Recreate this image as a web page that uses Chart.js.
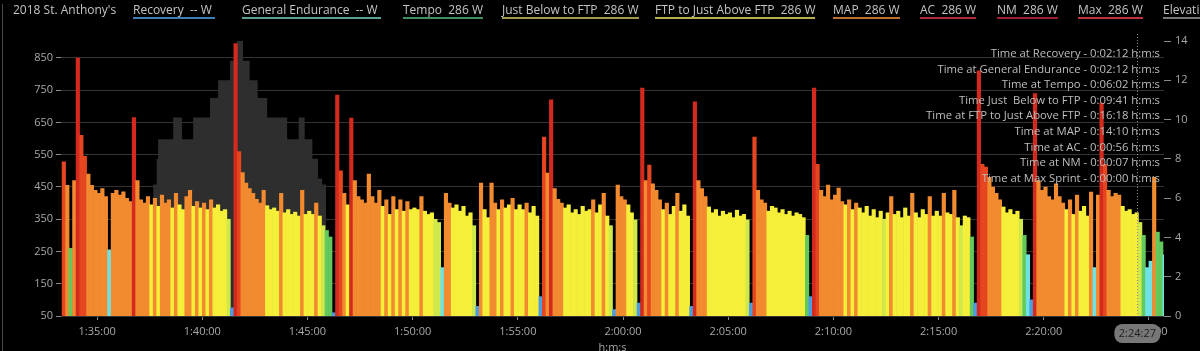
<!DOCTYPE html>
<html>
<head>
<meta charset="utf-8">
<script src="https://cdn.jsdelivr.net/npm/chart.js@4"></script>
<style>
  html, body { margin: 0; padding: 0; background: #000; }
  #wrap { position: relative; width: 1200px; height: 351px; overflow: hidden; background: #000; }
  #wrap canvas { position: absolute; left: 0; top: 0; }
  #edge { position: absolute; left: 2px; top: 4px; width: 1px; height: 347px; background: #4a4a4a; }
  .hdr { position: absolute; top: 3px; font: 12px "Open Sans", sans-serif; color: #c4c4c4; white-space: pre; line-height: 14px; }
  .zone { border-bottom: 2px solid; }
  #times { position: absolute; right: 40px; top: 45px; text-align: right; font: 11.3px "Open Sans", sans-serif;
           color: #bdbdbd; line-height: 15.6px; white-space: pre; }
</style>
</head>
<body>
<div id="wrap">
  <canvas id="powerChart" width="1200" height="351"></canvas>
  <div id="edge"></div>
  <div id="header"></div>
  <div id="times"></div>
</div>
<script>
// ride + legend text
const rideName = "2018 St. Anthony's";
const zoneNames = ['Recovery', 'General Endurance', 'Tempo', 'Just Below to FTP', 'FTP to Just Above FTP', 'MAP', 'AC', 'NM', 'Max', 'Elevation'];
const zoneReadout = ['-- W ', '-- W ', '286 W', '286 W', '286 W', '286 W', '286 W', '286 W', '286 W', ''];
const timeLabels = ['Time at Recovery', 'Time at General Endurance', 'Time at Tempo', 'Time Just  Below to FTP',
  'Time at FTP to Just Above FTP', 'Time at MAP', 'Time at AC', 'Time at NM', 'Time at Max Sprint'];
const timeValues = ['0:02:12', '0:02:12', '0:06:02', '0:09:41', '0:16:18', '0:14:10', '0:00:56', '0:00:07', '0:00:00'];

// power, one value every 10 s
const powerStart = '1:33:25';
const powerStep = 10;
const power = [
  528, 455, 260, 470, 850, 610, 545, 490, 455, 440,
  430, 445, 420, 255, 430, 440, 425, 435, 415, 405,
  665, 470, 410, 400, 420, 395, 415, 390, 425, 400,
  410, 385, 430, 395, 380, 420, 440, 390, 405, 385,
  400, 380, 410, 385, 395, 375, 380, 350, 75, 895,
  560, 495, 462, 445, 430, 412, 400, 440, 392, 380,
  385, 375, 430, 370, 380, 365, 372, 360, 440, 365,
  375, 365, 400, 360, 330, 315, 295, 60, 735, 500,
  430, 395, 664, 470, 420, 410, 400, 490, 420, 400,
  440, 390, 410, 365, 420, 380, 410, 375, 405, 380,
  385, 380, 420, 375, 365, 370, 350, 340, 200, 430,
  400, 385, 395, 375, 390, 360, 370, 330, 80, 462,
  380, 355, 462, 400, 380, 410, 385, 395, 415, 380,
  395, 380, 400, 370, 390, 360, 110, 605, 493, 720,
  445, 412, 400, 385, 395, 370, 380, 365, 390, 375,
  380, 410, 370, 395, 430, 360, 330, 70, 456, 420,
  410, 395, 370, 348, 90, 757, 470, 518, 460, 440,
  410, 380, 400, 365, 390, 430, 375, 395, 360, 80,
  714, 470, 445, 420, 388, 370, 380, 360, 375, 365,
  370, 355, 378, 360, 365, 348, 90, 605, 440, 410,
  400, 375, 390, 385, 370, 380, 365, 375, 360, 370,
  365, 355, 300, 110, 757, 520, 440, 420, 456, 410,
  425, 447, 405, 395, 410, 380, 400, 385, 370, 390,
  360, 380, 355, 375, 350, 370, 420, 365, 375, 355,
  385, 360, 430, 370, 355, 380, 365, 420, 360, 375,
  360, 430, 370, 365, 440, 355, 330, 360, 355, 295,
  90, 810, 520, 512, 480, 450, 430, 410, 388, 370,
  380, 365, 375, 350, 300, 240, 100, 740, 470, 440,
  450, 420, 410, 460, 420, 400, 380, 410, 365, 425,
  375, 390, 360, 434, 200, 425, 710, 520, 440, 420,
  430, 425, 390, 375, 380, 365, 370, 340, 300, 200,
  220, 480, 310, 280, 240
];

// elevation, each value held until the next time
const elevTimes = ['1:33:17', '1:37:40', '1:37:50', '1:37:54', '1:38:37', '1:39:02', '1:39:34', '1:40:22', '1:40:45',
  '1:41:19', '1:41:39', '1:41:56', '1:42:15', '1:42:38', '1:43:05', '1:44:02', '1:44:35', '1:44:52', '1:45:14',
  '1:45:30', '1:45:42', '1:45:53', '2:25:43'];
const elevValues = [0, 6.7, 8, 9, 10.1, 9, 10.1, 11.1, 12, 13, 14, 13, 12, 11.1, 10.1, 9, 10.1, 9, 8, 7, 6.7, 0, 0];

// power zone limits (W) and bar colours
const zoneLimits = [150, 260, 330, 355, 400, 500, 650];
const zoneColors = ['#4d9be0', '#6fe3e3', '#62c95c', '#cfe94c', '#f5ef3a', '#f28b30', '#e6461f', '#d42a1e'];
const zoneLineColors = ['#3f7fb6', '#5aa093', '#3f8f5a', '#a09a48', '#b6b04a', '#c0702e', '#b02a3a', '#a01f30', '#c0303e', '#777'];

const powerTicks = [50, 150, 250, 350, 450, 550, 650, 750, 850];
const elevTicks = [0, 2, 4, 6, 8, 10, 12, 14];
const timeTicks = ['1:35:00', '1:40:00', '1:45:00', '1:50:00', '1:55:00', '2:00:00', '2:05:00', '2:10:00', '2:15:00', '2:20:00', '2:25:00'];
const cursorTime = '2:24:27';
const viewFrom = '1:33:17', viewTo = '2:25:43';

const toSec = s => { const p = s.split(':').map(Number); return p[0] * 3600 + p[1] * 60 + p[2]; };
const fmt = v => {
  const h = Math.floor(v / 3600), m = Math.floor(v % 3600 / 60), s = Math.round(v % 60);
  return h + ':' + String(m).padStart(2, '0') + ':' + String(s).padStart(2, '0');
};
const zoneColor = w => { let k = 0; while (k < zoneLimits.length && w >= zoneLimits[k]) k++; return zoneColors[k]; };

// header + time-in-zone text
const headerLeft = [13, 133, 242, 403, 502, 655, 833, 920, 997, 1078, 1163];
const header = document.getElementById('header');
[rideName].concat(zoneNames).forEach((name, k) => {
  const d = document.createElement('div');
  d.className = 'hdr' + (k > 0 ? ' zone' : '');
  d.style.left = headerLeft[k] + 'px';
  if (k > 0) {
    d.style.borderColor = zoneLineColors[k - 1];
    d.textContent = name + (zoneReadout[k - 1] ? '  ' + zoneReadout[k - 1] : '');
  } else d.textContent = name;
  header.appendChild(d);
});
document.getElementById('times').textContent =
  timeLabels.map((l, k) => l + ' - ' + timeValues[k] + ' h:m:s').join('\n');

const t0 = toSec(powerStart);
const powerPoints = power.map((w, i) => ({ x: t0 + i * powerStep, y: w }));
const elevPoints = elevTimes.map((t, i) => ({ x: toSec(t), y: elevValues[i] }));
const tickFont = { family: 'Open Sans', size: 11 };

const cursorPlugin = {
  id: 'cursor',
  afterDatasetsDraw(chart) {
    const ctx = chart.ctx, x = Math.round(chart.scales.x.getPixelForValue(toSec(cursorTime))) + 0.5;
    ctx.save();
    ctx.strokeStyle = '#8c8c8c';
    ctx.lineWidth = 1;
    ctx.setLineDash([1, 2]);
    ctx.beginPath();
    ctx.moveTo(x, 34);
    ctx.lineTo(x, chart.chartArea.bottom);
    ctx.stroke();
    ctx.restore();
  },
  afterDraw(chart) {
    const ctx = chart.ctx, x = chart.scales.x.getPixelForValue(toSec(cursorTime));
    ctx.save();
    ctx.fillStyle = '#777';
    ctx.beginPath();
    ctx.roundRect(x - 23, 324, 46, 19, 8);
    ctx.fill();
    ctx.fillStyle = '#1e1e1e';
    ctx.font = '11px "Open Sans"';
    ctx.textAlign = 'center';
    ctx.textBaseline = 'middle';
    ctx.fillText(cursorTime, x, 334);
    ctx.restore();
  }
};

new Chart(document.getElementById('powerChart'), {
  data: {
    datasets: [{
      type: 'bar',
      label: 'Power',
      data: powerPoints,
      backgroundColor: power.map(zoneColor),
      barPercentage: 1,
      categoryPercentage: 1,
      borderWidth: 0,
      yAxisID: 'y',
      order: 1
    }, {
      type: 'line',
      label: 'Elevation',
      data: elevPoints,
      yAxisID: 'y1',
      stepped: 'before',
      fill: 'origin',
      backgroundColor: '#2e2e2e',
      borderWidth: 0,
      pointRadius: 0,
      order: 2
    }]
  },
  options: {
    responsive: false,
    animation: false,
    layout: { padding: { top: 41, left: 0, right: 0, bottom: 0 } },
    plugins: { legend: { display: false }, tooltip: { enabled: false } },
    scales: {
      x: {
        type: 'linear',
        offset: false,
        min: toSec(viewFrom),
        max: toSec(viewTo),
        afterBuildTicks: s => { s.ticks = timeTicks.map(t => ({ value: toSec(t) })); },
        afterFit: s => { s.height = 35; },
        grid: { drawOnChartArea: false, tickLength: 4, tickColor: '#8a8a8a', offset: false },
        border: { display: false },
        ticks: { color: '#a8a8a8', font: tickFont, padding: 5, maxRotation: 0, autoSkip: false, callback: v => fmt(v) },
        title: { display: true, text: 'h:m:s', color: '#a8a8a8', font: tickFont, padding: { top: 0, bottom: -3 } }
      },
      y: {
        position: 'left',
        min: 50,
        max: 902.7,
        afterBuildTicks: s => { s.ticks = powerTicks.map(v => ({ value: v })); },
        afterFit: s => { s.width = 61; },
        grid: { color: '#343434', tickLength: 5, tickColor: '#8a8a8a' },
        border: { display: false },
        ticks: { color: '#a8a8a8', font: tickFont, padding: 3 }
      },
      y1: {
        position: 'right',
        min: 0,
        max: 14,
        afterBuildTicks: s => { s.ticks = elevTicks.map(v => ({ value: v })); },
        afterFit: s => { s.width = 36; },
        grid: { drawOnChartArea: false, tickLength: 7, tickColor: '#8a8a8a' },
        border: { display: false },
        ticks: { color: '#a8a8a8', font: tickFont, padding: 4 }
      }
    }
  },
  plugins: [cursorPlugin]
});
</script>
</body>
</html>
